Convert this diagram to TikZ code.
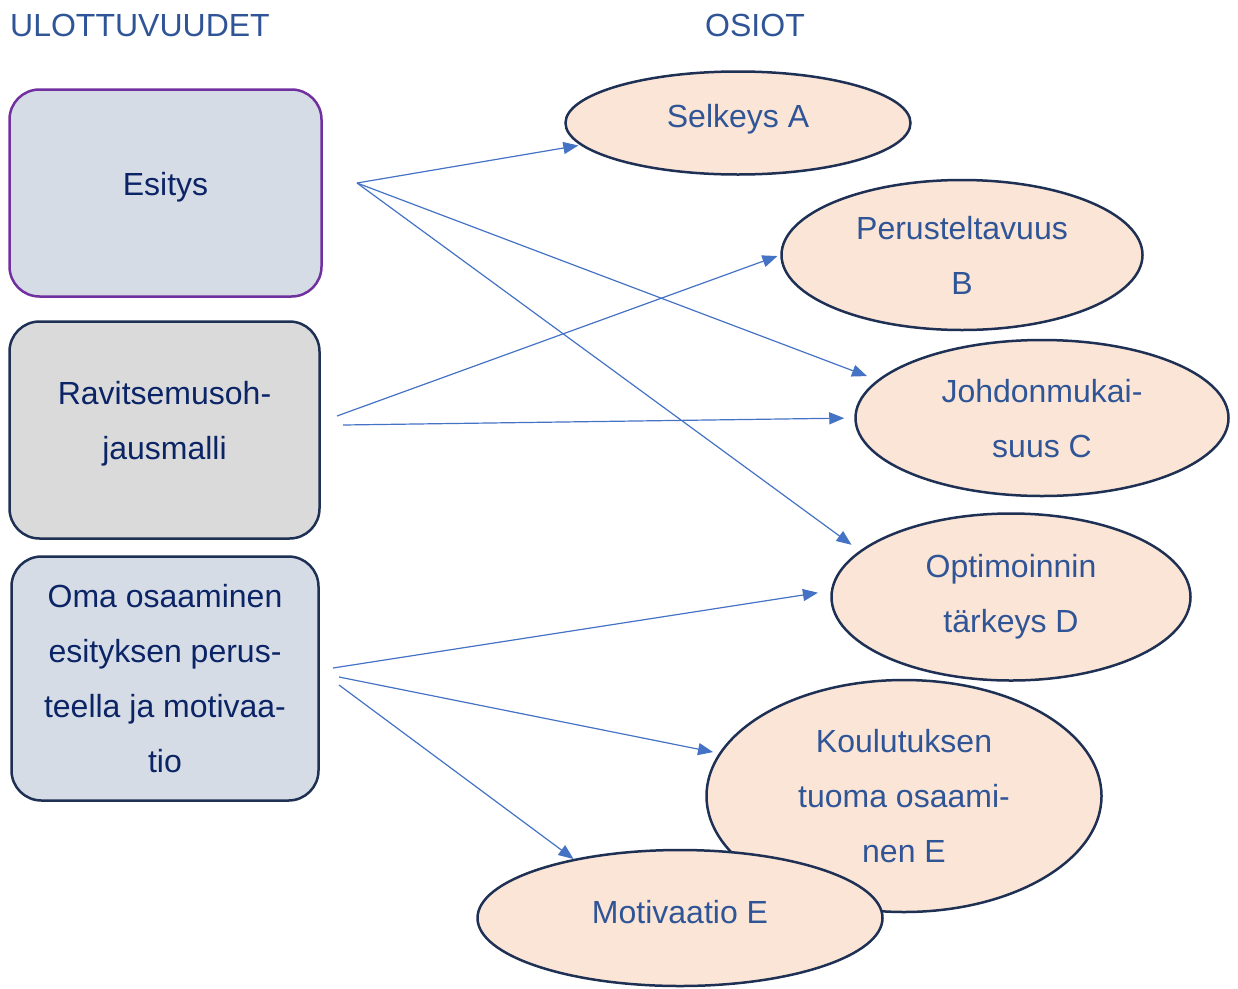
\documentclass[tikz,border=0pt]{standalone}
\usepackage{fontspec}
\setmainfont{Liberation Sans}
\usetikzlibrary{shapes.geometric,arrows.meta}
\definecolor{boxblue}{HTML}{D6DCE5}
\definecolor{boxgray}{HTML}{DADADA}
\definecolor{ellfill}{HTML}{FBE5D6}
\definecolor{navyline}{HTML}{1F3055}
\definecolor{purpline}{HTML}{7030A0}
\definecolor{boxtext}{HTML}{0B2466}
\definecolor{elltext}{HTML}{2F5597}
\definecolor{arrcol}{HTML}{4472C4}
\tikzset{
  bigtext/.style={font=\fontsize{32}{55}\selectfont},
  dimbox/.style={bigtext, rectangle, draw=navyline, rounded corners=30pt, line width=2.5pt, text=boxtext, align=center, inner sep=0pt},
  oval/.style={bigtext, ellipse, draw=navyline, fill=ellfill, line width=2.5pt, text=elltext, align=center, inner sep=0pt},
  heading/.style={bigtext, text=elltext, inner sep=0pt},
  link/.style={draw=arrcol, line width=1.2pt, -{Triangle[length=15pt,width=12pt]}}
}
\begin{document}
\begin{tikzpicture}[x=1pt,y=-1pt]
\useasboundingbox (0,0) rectangle (1238,988);
\node[heading, anchor=west] (h1) at (10,25) {ULOTTUVUUDET};
\node[heading] (h2) at (755,25) {OSIOT};

\node[dimbox, draw=purpline, fill=boxblue, minimum width=312pt, minimum height=207pt, text depth=18.5pt] (esitys) at (165.5,193) {Esitys};
\node[dimbox, fill=boxgray, minimum width=310pt, minimum height=217pt, text depth=18.5pt] (ravit) at (164.5,430) {Ravitsemusoh-\\jausmalli};
\node[dimbox, fill=boxblue, minimum width=307pt, minimum height=244pt] (oma) at (165,678.5) {Oma osaaminen\\esityksen perus-\\teella ja motivaa-\\tio};

\node[oval, minimum width=345pt, minimum height=103pt, text depth=14.5pt] (A) at (738,123) {Selkeys A};
\node[oval, minimum width=361pt, minimum height=150pt, text depth=-6pt] (B) at (962,255) {Perusteltavuus\\B};
\node[oval, minimum width=373pt, minimum height=156pt, text depth=-6pt] (C) at (1042,418) {Johdonmukai-\\suus C};
\node[oval, minimum width=359pt, minimum height=167pt] (D) at (1011,597) {Optimoinnin\\tärkeys D};
\node[oval, minimum width=395pt, minimum height=232pt, text depth=-6pt] (E) at (904,796) {Koulutuksen\\tuoma osaami-\\nen E};
\node[oval, minimum width=405pt, minimum height=136pt, text depth=12pt] (M) at (680,918) {Motivaatio E};

\coordinate (s1) at (357,183);
\coordinate (s2) at (337,416);
\coordinate (s3) at (343,425);
\coordinate (s4) at (333,668);
\coordinate (s5) at (339,677);
\coordinate (s6) at (339,685);

\draw[link, shorten >=2pt] (s1) -- (A.188.5);
\draw[link, shorten >=11pt] (s1) -- (C.167.9);
\draw[link, shorten >=10pt] (s1) -- (D.163.3);
\draw[link, shorten >=3pt] (s2) -- (B.180);
\draw[link, shorten >=10pt] (s3) -- (C.180);
\draw[link, shorten >=13pt] (s4) -- (D.178);
\draw[link, shorten >=6pt] (s5) -- (E.167.4);
\draw[link] (s6) -- (M.151);
\end{tikzpicture}
\end{document}
